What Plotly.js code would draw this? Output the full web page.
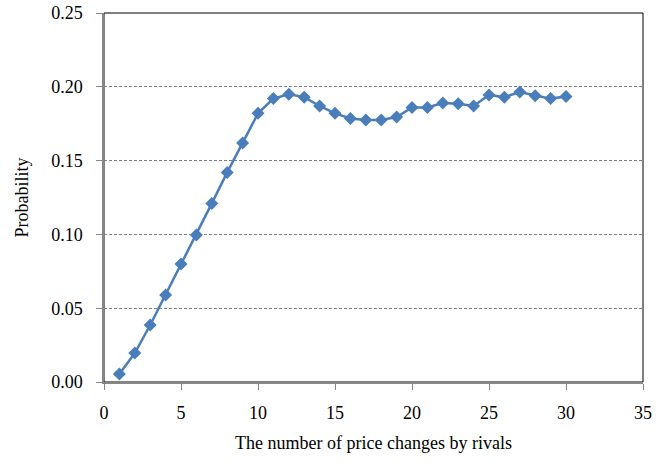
<!DOCTYPE html>
<html><head><meta charset="utf-8">
<script src="https://cdn.plot.ly/plotly-3.0.1.min.js"></script>
<style>html,body{margin:0;padding:0;background:#fff}#c{width:658px;height:467px}</style>
</head><body><div id="c"></div>
<script>
const changes = [1,2,3,4,5,6,7,8,9,10,11,12,13,14,15,16,17,18,19,20,21,22,23,24,25,26,27,28,29,30];
const probability = [0.0054,0.0196,0.0386,0.059,0.080,0.0996,0.121,0.142,0.162,0.182,0.192,0.195,0.193,0.187,0.182,0.1785,0.1775,0.1775,0.1795,0.186,0.186,0.189,0.1885,0.187,0.1945,0.193,0.1965,0.194,0.192,0.1935];
const yTicks = [0,0.05,0.10,0.15,0.20,0.25];
const xTicks = [0,5,10,15,20,25,30,35];
const font = {family:'Liberation Serif, serif', size:18, color:'#000'};
Plotly.newPlot('c',[{
  x: changes, y: probability, type:'scatter', mode:'lines+markers',
  line:{color:'#4a7ebb', width:2.5},
  marker:{symbol:'diamond', size:10, color:'#4a7ebb'}
}],{
  width:658, height:467,
  margin:{l:104,r:15,t:13,b:85},
  paper_bgcolor:'#fff', plot_bgcolor:'#fff',
  showlegend:false, font:font,
  xaxis:{range:[0,35], tickvals:xTicks, ticktext:xTicks.map(String), showgrid:false, zeroline:false,
    showline:true, linecolor:'#868686', linewidth:1.5, ticks:'outside', ticklen:6, tickcolor:'#868686',
    ticklabelstandoff:8,
    tickfont:font, title:{text:'The number of price changes by rivals', font:font, standoff:14}},
  yaxis:{range:[0,0.25], tickvals:yTicks, ticktext:yTicks.map(v=>v.toFixed(2)), showgrid:true,
    gridcolor:'#7f7f7f', griddash:'3px,2px', gridwidth:1, zeroline:false,
    showline:true, linecolor:'#868686', linewidth:1.5, ticks:'outside', ticklen:6, tickcolor:'#868686',
    ticklabelstandoff:10,
    tickfont:font, title:{text:'Probability', font:font, standoff:18}},
  shapes:[{type:'rect', xref:'paper', yref:'paper', x0:0, x1:1, y0:0, y1:1, line:{color:'#000', width:1}, layer:'below'}]
},{displayModeBar:false});
</script></body></html>
